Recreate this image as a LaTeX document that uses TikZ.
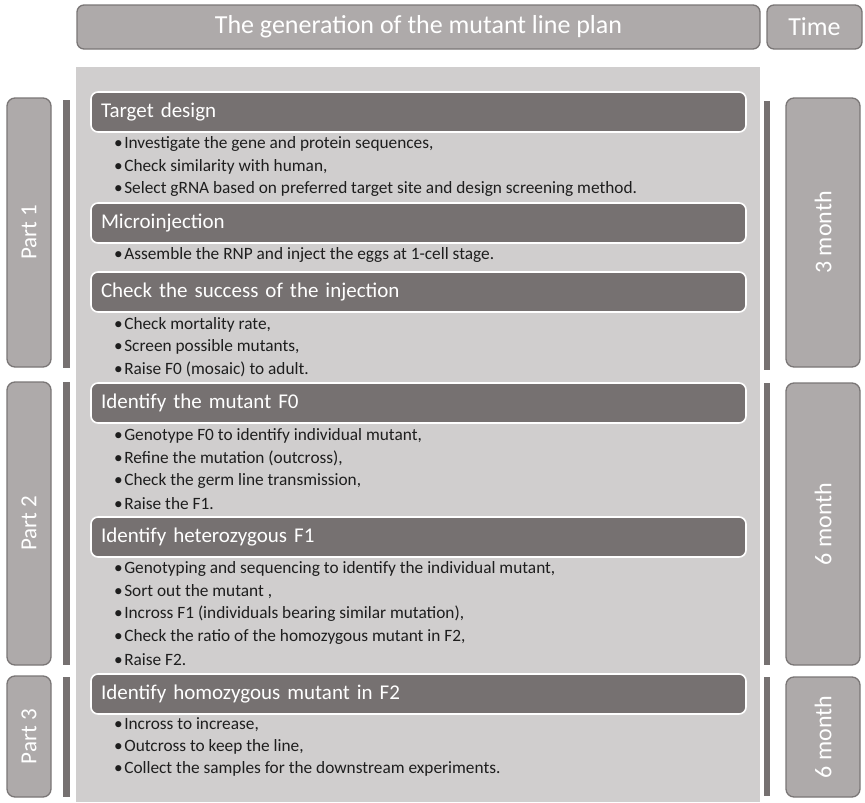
\documentclass[tikz,border=0pt]{standalone}
\usepackage{fontspec}
\setmainfont{Carlito}
\definecolor{panel}{HTML}{D0CECE}
\definecolor{dark}{HTML}{767171}
\definecolor{mid}{HTML}{AEAAAA}
\definecolor{edge}{HTML}{7A7676}
\definecolor{txt}{HTML}{1E1E1E}
\newcommand{\bul}{•\kern1.5pt}
\begin{document}
\begin{tikzpicture}[x=1pt,y=-1pt,
  topbox/.style={draw=edge, line width=1.3pt, fill=mid, rounded corners=7pt, text=white, font=\fontsize{26}{28}\selectfont, inner sep=0pt},
  sidebox/.style={draw=edge, line width=1.3pt, fill=mid, rounded corners=8pt, text=white, minimum width=44pt, inner sep=0pt},
  bar/.style={fill=dark, draw=none, minimum width=6.5pt, inner sep=0pt},
  head/.style={draw=white, line width=1.6pt, fill=dark, rounded corners=7pt, text=white, font=\fontsize{21}{23}\selectfont, minimum width=655pt, minimum height=40pt, text width=635pt, align=left, inner sep=10pt},
  item/.style={anchor=west, text=txt, font=\fontsize{17.3}{19}\selectfont, inner sep=0pt, yshift=-1pt}]
\useasboundingbox (0,0) rectangle (865,803);
% header
\node[topbox, minimum width=683pt, minimum height=44pt] (title) at (418.5,27) {The generation of the mutant line plan};
\node[topbox, minimum width=95pt, minimum height=44pt] (time) at (814.5,27) {Time};
% panel
\node[fill=panel, draw=none, minimum width=684pt, minimum height=735pt, inner sep=0pt] (panel) at (418,434.5) {};
% left part boxes
\node[sidebox, minimum height=269pt] (p1) at (29,232.5) {\rotatebox{90}{\fontsize{23}{25}\selectfont Part 1}};
\node[sidebox, minimum height=283pt] (p2) at (29,523.5) {\rotatebox{90}{\fontsize{23}{25}\selectfont Part 2}};
\node[sidebox, minimum height=121pt] (p3) at (29,736.5) {\rotatebox{90}{\fontsize{23}{25}\selectfont Part 3}};
% left bars
\node[bar, minimum height=268pt] (lb1) at (66.5,234) {};
\node[bar, minimum height=283pt] (lb2) at (66.5,523.5) {};
\node[bar, minimum height=120pt] (lb3) at (66.5,737) {};
% right bars
\node[bar, minimum height=269pt] (rb1) at (767,235.5) {};
\node[bar, minimum height=282pt] (rb2) at (767,524) {};
\node[bar, minimum height=119pt] (rb3) at (767,736.5) {};
% right time boxes
\node[sidebox, minimum width=74pt, minimum height=269pt] (t1) at (823,232.5) {\rotatebox{90}{\fontsize{24}{26}\selectfont 3 month}};
\node[sidebox, minimum width=74pt, minimum height=282pt] (t2) at (823,524) {\rotatebox{90}{\fontsize{24}{26}\selectfont 6 month}};
\node[sidebox, minimum width=74pt, minimum height=120pt] (t3) at (823,737) {\rotatebox{90}{\fontsize{24}{26}\selectfont 6 month}};
% headings
\node[head] (h1) at (418.5,112) {Target design};
\node[head] (h2) at (418.5,223) {Microinjection};
\node[head] (h3) at (418.5,292) {Check the success of the injection};
\node[head] (h4) at (418.5,403) {Identify the mutant F0};
\node[head] (h5) at (418.5,537) {Identify heterozygous F1};
\node[head] (h6) at (418.5,694) {Identify homozygous mutant in F2};
% bullets
\node[item] (b11) at (114,143) {\bul Investigate the gene and protein sequences,};
\node[item] (b12) at (114,166) {\bul Check similarity with human,};
\node[item] (b13) at (114,188) {\bul Select gRNA based on preferred target site and design screening method.};
\node[item] (b21) at (114,254) {\bul Assemble the RNP and inject the eggs at 1-cell stage.};
\node[item] (b31) at (114,324) {\bul Check mortality rate,};
\node[item] (b32) at (114,346) {\bul Screen possible mutants,};
\node[item] (b33) at (114,368) {\bul Raise F0 (mosaic) to adult.};
\node[item] (b41) at (114,435) {\bul Genotype F0 to identify individual mutant,};
\node[item] (b42) at (114,457) {\bul Refine the mutation (outcross),};
\node[item] (b43) at (114,480) {\bul Check the germ line transmission,};
\node[item] (b44) at (114,503) {\bul Raise the F1.};
\node[item] (b51) at (114,568) {\bul Genotyping and sequencing to identify the individual mutant,};
\node[item] (b52) at (114,591) {\bul Sort out the mutant ,};
\node[item] (b53) at (114,613) {\bul Incross F1 (individuals bearing similar mutation),};
\node[item] (b54) at (114,636) {\bul Check the ratio of the homozygous mutant in F2,};
\node[item] (b55) at (114,659) {\bul Raise F2.};
\node[item] (b61) at (114,724) {\bul Incross to increase,};
\node[item] (b62) at (114,746) {\bul Outcross to keep the line,};
\node[item] (b63) at (114,768) {\bul Collect the samples for the downstream experiments.};
\end{tikzpicture}
\end{document}
